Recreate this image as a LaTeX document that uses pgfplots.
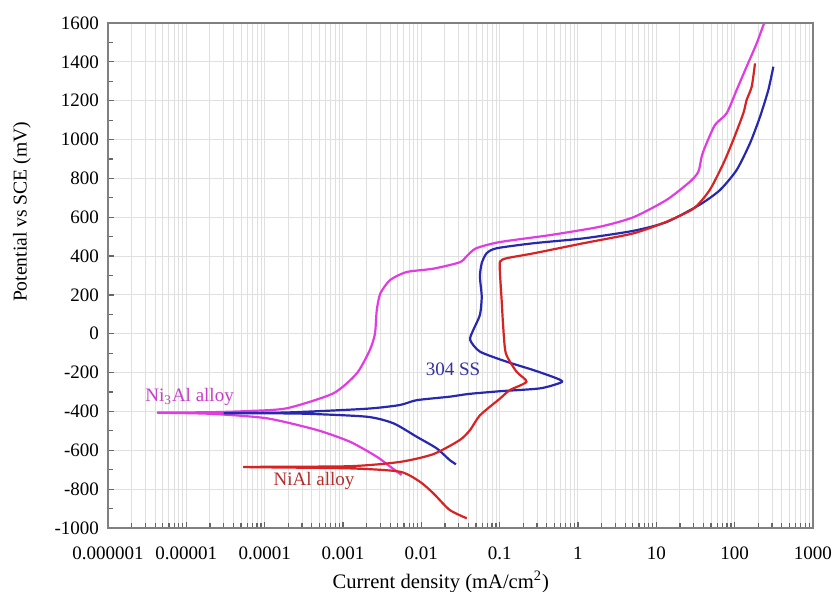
\documentclass[border=0pt]{standalone}
\usepackage{fontspec}
\setmainfont{Liberation Serif}
\usepackage{pgfplots}
\pgfplotsset{compat=1.18}
\definecolor{cmag}{RGB}{225,60,225}
\definecolor{cblue}{RGB}{40,40,175}
\definecolor{cred}{RGB}{215,35,35}
\definecolor{tmag}{RGB}{200,60,200}
\definecolor{tblue}{RGB}{50,50,160}
\definecolor{tred}{RGB}{180,45,45}
\begin{document}
\begin{tikzpicture}
\useasboundingbox (-54pt,-32pt) rectangle (363pt,264pt);
\begin{axis}[
  at={(0,0)}, anchor=south west,
  scale only axis, width=352.5pt, height=252.5pt,
  xmode=log, log basis x=10,
  xmin=1e-6, xmax=1000, ymin=-1000, ymax=1600,
  xtick={1e-6,1e-5,1e-4,1e-3,1e-2,1e-1,1,10,100,1000},
  xticklabels={0.000001,0.00001,0.0001,0.001,0.01,0.1,1,10,100,1000},
  minor xtick={2e-6,3e-6,4e-6,5e-6,6e-6,7e-6,8e-6,9e-6,
    2e-5,3e-5,4e-5,5e-5,6e-5,7e-5,8e-5,9e-5,
    2e-4,3e-4,4e-4,5e-4,6e-4,7e-4,8e-4,9e-4,
    0.002,0.003,0.004,0.005,0.006,0.007,0.008,0.009,
    0.02,0.03,0.04,0.05,0.06,0.07,0.08,0.09,
    0.2,0.3,0.4,0.5,0.6,0.7,0.8,0.9,
    2,3,4,5,6,7,8,9,
    20,30,40,50,60,70,80,90,
    200,300,400,500,600,700,800,900},
  ytick={-1000,-800,...,1600},
  minor y tick num=1,
  tick pos=left,
  xmajorgrids=true, xminorgrids=true, ymajorgrids=true,
  grid style={draw=black!12, line width=0.5pt},
  minor grid style={draw=black!12, line width=0.5pt},
  axis line style={draw=black!50, line width=0.8pt},
  tick style={draw=black!60, line width=0.6pt},
  major tick length=3pt, minor tick length=2.5pt,
  /pgf/number format/assume math mode=true,
  /pgf/number format/1000 sep={},
  ticklabel style={font=\fontsize{9.5}{11}\selectfont},
  xticklabel style={yshift=-6pt},
  yticklabel style={xshift=-1pt},
  xlabel={Current density (mA/cm\textsuperscript{2})},
  ylabel={Potential vs SCE (mV)},
  xlabel style={font=\fontsize{10.3}{12}\selectfont, at={(axis description cs:0.472,0)}, anchor=center, yshift=-27pt},
  ylabel style={font=\fontsize{9.8}{12}\selectfont, at={(axis description cs:-0.122,0.626)}, anchor=center},
  clip=true,
]
% Ni3Al alloy
\addplot[cmag, line width=1.1pt, smooth, tension=0.4] coordinates {
(0.0056,-727) (0.0040,-684) (0.0027,-633) (0.00123,-556) (0.00046,-495)
(0.000106,-435) (0.00002,-412) (4.2e-6,-406) (0.00002,-404) (0.00006,-398)
(0.00019,-384) (0.00075,-307) (0.0015,-204) (0.0022,-84) (0.00256,0)
(0.0027,122) (0.0030,208) (0.0040,277) (0.0065,318) (0.0142,335)
(0.031,368) (0.038,400) (0.050,440) (0.10,472) (0.44,508) (1.9,551)
(5.1,600) (13.5,689) (26.9,783) (34.4,834) (37.9,912) (42,963)
(56,1075) (79,1135) (106,1255) (142,1375) (191,1495) (237,1598)
};
% 304 SS
\addplot[cblue, line width=1.1pt, smooth, tension=0.4] coordinates {
(0.0277,-672) (0.023,-650) (0.0157,-590) (0.0087,-530) (0.0044,-461)
(0.002,-427) (0.00028,-411) (0.00003,-409) (0.0002,-405) (0.002,-386)
(0.0053,-367) (0.0087,-342) (0.023,-324) (0.04,-310) (0.10,-296)
(0.33,-281) (0.62,-249) (0.53,-229) (0.27,-187) (0.123,-144)
(0.056,-92) (0.042,-32) (0.046,19) (0.056,97) (0.059,191) (0.056,294)
(0.059,363) (0.068,414) (0.091,440) (0.27,466) (1.17,491) (5.1,530)
(13.5,575) (36,665) (65,740) (106,843) (157,981) (211,1118) (269,1255) (312,1375)
};
% NiAl alloy
\addplot[cred, line width=1.1pt, smooth, tension=0.4] coordinates {
(0.038,-950) (0.023,-907) (0.0142,-821) (0.0096,-762) (0.0053,-710)
(0.0012,-693) (5.3e-5,-686) (0.0012,-682) (0.0053,-660) (0.0142,-620)
(0.031,-547) (0.042,-495) (0.056,-420) (0.10,-335) (0.135,-290)
(0.22,-247) (0.164,-195) (0.12,-101) (0.111,36) (0.106,174) (0.101,311)
(0.101,371) (0.123,389) (0.27,414) (1.17,466) (5.1,517) (13.5,577)
(30,645) (48,740) (72,878) (96,998) (129,1135) (142,1203) (165,1272) (182,1392)
};
\node[tmag, font=\fontsize{9.5}{11}\selectfont] at (axis cs:1.1e-5,-326) {Ni\textsubscript{3}Al alloy};
\node[tblue, font=\fontsize{9.5}{11}\selectfont] at (axis cs:0.0254,-181) {304 SS};
\node[tred, font=\fontsize{9.5}{11}\selectfont] at (axis cs:4.27e-4,-758) {NiAl alloy};
\end{axis}
\end{tikzpicture}
\end{document}
